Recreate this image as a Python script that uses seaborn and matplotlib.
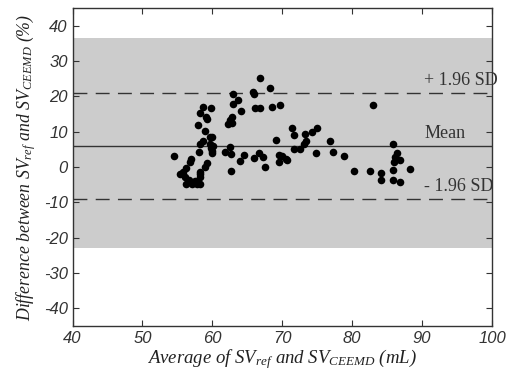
import matplotlib
matplotlib.use('Agg')
import matplotlib.pyplot as plt
import seaborn as sns
import pandas as pd

# average of SV_ref and SV_CEEMD (mL)
avg = [54.5, 58.7, 59.8, 58.3, 59.1, 59.3, 58.0, 59.0, 59.6, 58.6,
       58.2, 59.6, 59.8, 58.1, 60.0, 57.0, 56.8, 59.3, 59.0, 56.2,
       55.8, 58.2, 55.4, 56.1, 58.2, 56.6, 56.3, 57.1, 57.8, 58.2,
       57.5, 59.9, 58.2,
       66.8, 68.3, 65.8, 65.9, 63.0, 63.7, 62.9, 64.1, 66.1, 66.8,
       68.6, 69.7, 62.8, 62.5, 62.3, 62.8, 69.1, 59.9, 60.1, 62.5,
       61.8, 62.6, 64.5, 66.7, 67.3, 65.9, 64.0, 69.6, 70.6, 69.6,
       67.5, 62.7,
       71.4, 71.7, 73.3, 74.2, 74.9, 73.4, 73.1, 71.7, 72.5, 76.9,
       74.8, 77.2, 78.9, 69.9, 70.7, 80.3,
       83.0, 85.9, 86.4, 86.1, 86.8, 86.0, 88.3, 82.5, 84.1, 85.9,
       84.1, 85.9, 86.9]
# difference between SV_ref and SV_CEEMD (%)
diff = [3.0, 16.9, 16.7, 15.2, 14.3, 13.5, 12.0, 10.1, 8.4, 7.5,
        6.5, 6.5, 5.4, 4.2, 4.1, 2.3, 1.4, 1.1, 0.1, -0.2,
        -1.5, -1.5, -1.9, -2.7, -2.7, -3.6, -4.8, -4.8, -4.9, -4.9,
        -4.0, 4.5, -2.0,
        25.2, 22.4, 21.4, 20.7, 20.7, 19.0, 17.8, 16.0, 16.6, 16.6,
        16.9, 17.7, 14.3, 13.3, 12.2, 12.4, 7.7, 8.4, 6.1, 5.8,
        4.2, 3.7, 3.5, 3.9, 2.8, 2.6, 1.8, 3.4, 2.2, 1.4,
        0.0, -1.0,
        11.1, 9.2, 9.5, 9.8, 11.1, 7.3, 6.5, 5.1, 5.1, 7.5,
        3.9, 4.2, 3.0, 3.2, 2.0, -1.2,
        17.7, 6.5, 3.9, 2.8, 2.1, 1.4, -0.6, -1.2, -1.7, -0.8,
        -3.8, -3.6, -4.3]

mean_diff = 6.0
upper_loa = 21.0
lower_loa = -9.0
band = [-23.0, 36.5]
line_labels = ['+ 1.96 SD', 'Mean', '- 1.96 SD']

df = pd.DataFrame({'avg': avg, 'diff': diff})

sns.set_style('ticks')
plt.rcParams['font.family'] = ['Liberation Serif', 'DejaVu Serif']
plt.rcParams['mathtext.fontset'] = 'custom'
plt.rcParams['mathtext.it'] = 'Liberation Serif:italic'
plt.rcParams['mathtext.rm'] = 'Liberation Serif'
plt.rcParams['axes.unicode_minus'] = False

fig = plt.figure(figsize=(5.15, 3.76), dpi=100)
ax = fig.add_axes([0.1408, 0.1335, 0.8145, 0.8445])

ax.axhspan(band[0], band[1], color='#cccccc', lw=0, zorder=0)
ax.axhline(mean_diff, color='#333333', lw=1.0, zorder=1)
for y in (upper_loa, lower_loa):
    ax.axhline(y, color='#333333', lw=1.0, dashes=(10, 6), zorder=1)

sns.scatterplot(data=df, x='avg', y='diff', color='black', s=30,
                edgecolor='black', linewidth=0, ax=ax, zorder=3)

for y, lab in zip([upper_loa, mean_diff, lower_loa], line_labels):
    ax.text(90.3, y + 1.0, lab, fontsize=13, color='#333333',
            ha='left', va='bottom')

ax.set_xlim(40, 100)
ax.set_ylim(-45, 45)
ax.set_xticks(range(40, 101, 10))
ax.set_yticks(range(-40, 41, 10))
ax.tick_params(direction='in', length=4, top=True, right=True,
               labelsize=12, colors='#333333', labelcolor='#333333')
for lab in ax.get_xticklabels() + ax.get_yticklabels():
    lab.set_fontstyle('italic')
    lab.set_family(['Liberation Sans', 'DejaVu Sans'])
for sp in ax.spines.values():
    sp.set_color('#333333')
    sp.set_linewidth(1.0)

ax.set_xlabel(r'Average of $SV_{ref}$ and $SV_{CEEMD}$ (mL)',
              fontsize=13.5, fontstyle='italic', color='#222222', labelpad=1)
ax.set_ylabel(r'Difference between $SV_{ref}$ and $SV_{CEEMD}$ (%)',
              fontsize=12.8, fontstyle='italic', color='#222222', labelpad=4)

fig.savefig('out.png', dpi=100)
